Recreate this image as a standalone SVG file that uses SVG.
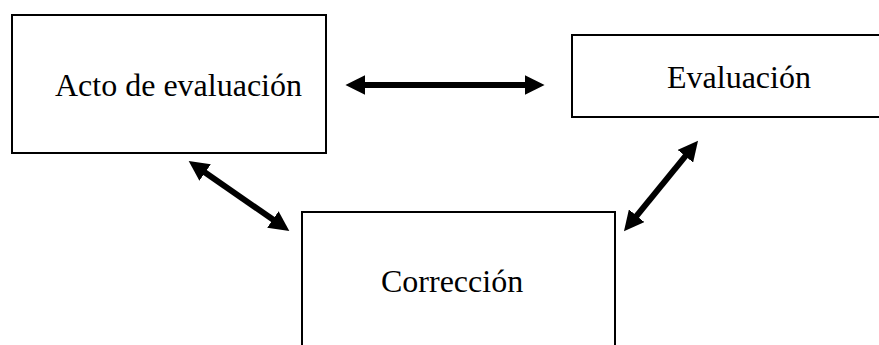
<svg xmlns="http://www.w3.org/2000/svg" width="879" height="345" viewBox="0 0 879 345">
<style>
.box{fill:#fff;stroke:#000;stroke-width:2}
.lbl{font-family:"Liberation Serif","Times New Roman",serif;font-size:32px;fill:#000}
.con{stroke:#000;stroke-width:6;fill:none}
</style>
<defs>
<marker id="ah" markerUnits="userSpaceOnUse" markerWidth="20" markerHeight="20" viewBox="0 0 19 19" refX="8" refY="9.5" orient="auto-start-reverse">
<path d="M0,0 L19,9.5 L0,19 z" fill="#000"/>
</marker>
</defs>
<rect width="879" height="345" fill="#fff"/>
<g id="node-acto">
<rect class="box" x="12" y="15" width="314" height="138"/>
<text class="lbl" x="55" y="96">Acto de evaluación</text>
</g>
<g id="node-evaluacion">
<rect class="box" x="572" y="35" width="320" height="82"/>
<text class="lbl" x="667" y="88">Evaluación</text>
</g>
<g id="node-correccion">
<rect class="box" x="302" y="212" width="313" height="150"/>
<text class="lbl" x="381" y="292">Corrección</text>
</g>
<g id="connectors">
<line class="con" x1="357" y1="85" x2="533" y2="85" marker-start="url(#ah)" marker-end="url(#ah)"/>
<line class="con" x1="198.2" y1="167.7" x2="279.8" y2="224.3" marker-start="url(#ah)" marker-end="url(#ah)"/>
<line class="con" x1="690.7" y1="149.7" x2="631.3" y2="222.3" marker-start="url(#ah)" marker-end="url(#ah)"/>
</g>
</svg>
